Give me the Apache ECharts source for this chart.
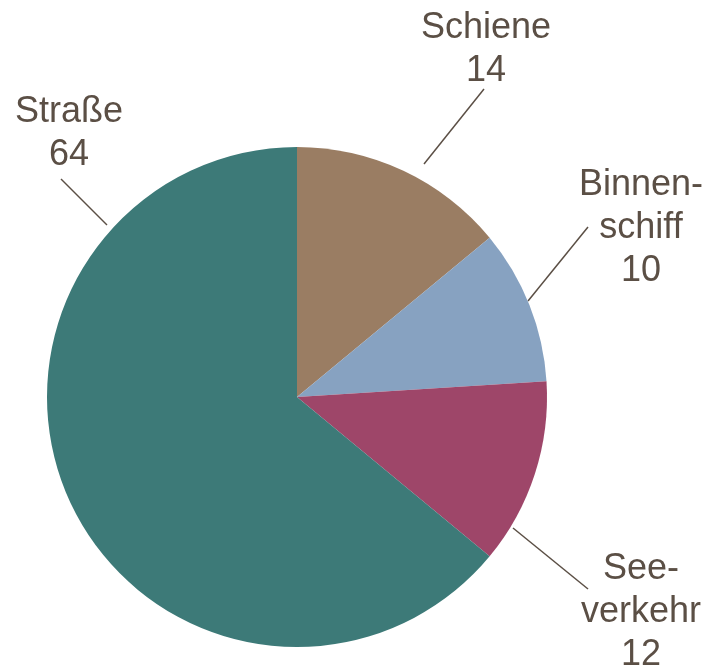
<!DOCTYPE html>
<html>
<head>
<meta charset="utf-8">
<script src="https://cdn.jsdelivr.net/npm/echarts@6/dist/echarts.min.js"></script>
<style>
  html, body { margin: 0; padding: 0; background: #fff; }
  #chart { width: 712px; height: 666px; }
</style>
</head>
<body>
<div id="chart"></div>
<script>
// data
const categories = ["Schiene", "Binnenschiff", "Seeverkehr", "Straße"];
const labelTexts = ["Schiene", "Binnen-\nschiff", "See-\nverkehr", "Straße"];
const values = [14, 10, 12, 64];
const colors = ["#9a7d63", "#87a2c1", "#9e4669", "#3d7a78"];

// label placement (text centre + leader line)
const labelPos = [
  { x: 486, y: 50, line: [[424, 164], [484, 89]] },
  { x: 641, y: 228, line: [[528, 301], [588, 227]] },
  { x: 641, y: 612, line: [[513, 528], [588, 589]] },
  { x: 69, y: 134, line: [[61, 179], [107, 225]] },
];

const textColor = "#5b4f45";

const chart = echarts.init(document.getElementById("chart"));
chart.setOption({
  animation: false,
  series: [
    {
      type: "pie",
      center: [297, 397],
      radius: 250,
      startAngle: 90,
      clockwise: true,
      data: categories.map((name, i) => ({
        name: name,
        value: values[i],
        itemStyle: { color: colors[i] },
        label: { formatter: labelTexts[i] + "\n{c}" },
      })),
      label: {
        show: true,
        position: "outside",
        color: textColor,
        fontFamily: "Liberation Sans, Arial, sans-serif",
        fontSize: 36,
        lineHeight: 43,
        align: "center",
        overflow: "none",
        edgeDistance: 0,
      },
      labelLine: {
        show: true,
        length: 20,
        length2: 0,
        lineStyle: { color: textColor, width: 1.5 },
      },
      labelLayout: (params) => {
        const p = labelPos[params.dataIndex];
        return {
          x: p.x,
          y: p.y,
          align: "center",
          verticalAlign: "middle",
          labelLinePoints: p.line,
        };
      },
    },
  ],
});
</script>
</body>
</html>
